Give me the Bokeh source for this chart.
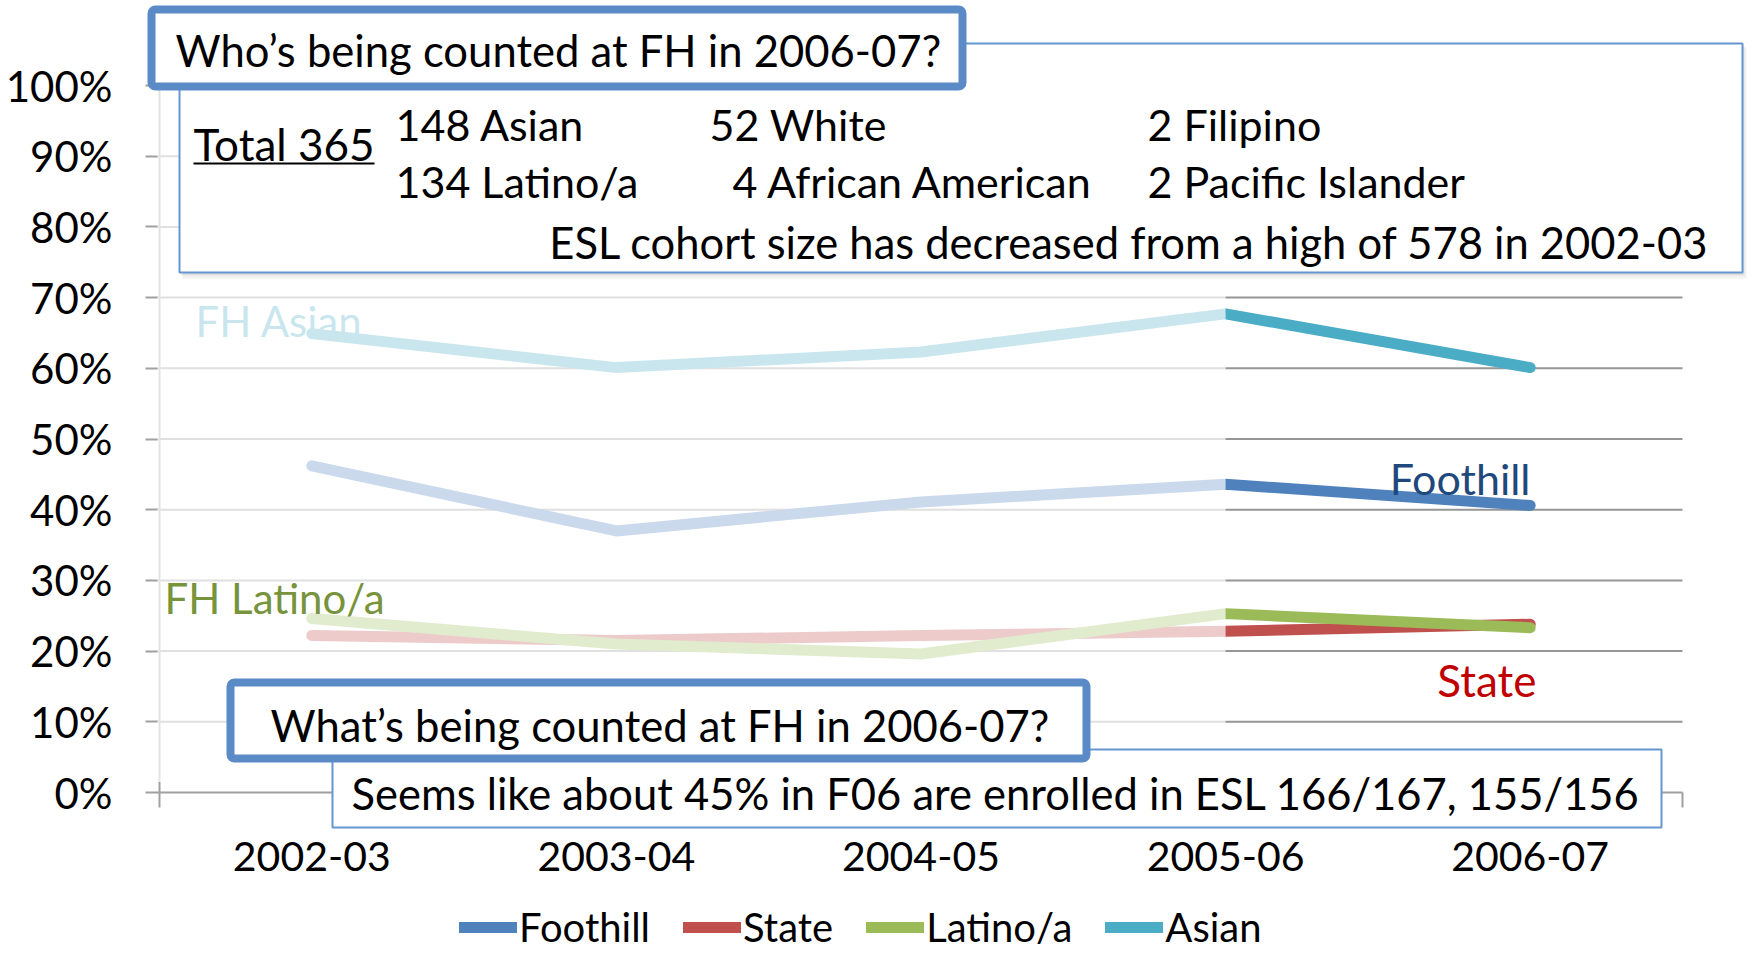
from bokeh.plotting import figure
from bokeh.models import (Range1d, FixedTicker, NumeralTickFormatter, BoxAnnotation,
                          Label, Legend, LegendItem)
from bokeh.embed import file_html
from bokeh.resources import INLINE

# ---------------- data ----------------
categories = ["2002-03", "2003-04", "2004-05", "2005-06", "2006-07"]
foothill = [0.462, 0.370, 0.411, 0.436, 0.406]
state = [0.222, 0.215, 0.222, 0.228, 0.238]
latino = [0.246, 0.210, 0.196, 0.253, 0.233]
asian = [0.649, 0.601, 0.623, 0.677, 0.601]
series_names = ["Foothill", "State", "Latino/a", "Asian"]
series_values = [foothill, state, latino, asian]
series_colors = ["#4F81BD", "#C0504D", "#9BBB59", "#4BACC6"]
y_ticks = [0.0, 0.1, 0.2, 0.3, 0.4, 0.5, 0.6, 0.7, 0.8, 0.9, 1.0]

title_top = "Who\u2019s being counted at FH in 2006-07?"
title_bottom = "What\u2019s being counted at FH in 2006-07?"
total_text = "Total 365"
group_col1 = ["148 Asian", "134 Latino/a"]
group_col2 = ["52 White", "4 African American"]
group_col3 = ["2 Filipino", "2 Pacific Islander"]
cohort_text = "ESL cohort size has decreased from a high of 578 in 2002-03"
enroll_text = "Seems like about 45% in F06 are enrolled in ESL 166/167, 155/156"

# ---------------- layout ----------------
FONT = "Lato"
W, H = 1752, 957
M = 0                 # page offset of the canvas
PX, XC0 = 304.6, 311.3  # pixels per category, page x of first category
PY, Y0 = 707.0, 792.0   # pixels per 100 %, page y of 0 %


def sx(X):
    return X - M


def sy(Y):
    return (M + H) - Y


xs = list(range(len(categories)))
x_lo, x_hi = -0.5, len(categories) - 0.5

p = figure(width=W, height=H, title=None,
           x_range=Range1d((M - XC0) / PX, (M + W - XC0) / PX),
           y_range=Range1d((Y0 - (M + H)) / PY, (Y0 - M) / PY),
           output_backend="svg", toolbar_location=None,
           min_border=0, min_border_left=0, min_border_right=0,
           min_border_top=0, min_border_bottom=0)
p.outline_line_color = None
p.background_fill_color = "white"
p.border_fill_color = "white"
p.xgrid.visible = False
p.ygrid.visible = False

# x axis (drawn at 0 %)
p.xaxis.fixed_location = 0
p.xaxis.bounds = (x_lo, x_hi)
p.xaxis.ticker = FixedTicker(ticks=xs, minor_ticks=[i - 0.5 for i in range(len(categories) + 1)])
p.xaxis.major_label_overrides = {i: c for i, c in enumerate(categories)}
p.xaxis.major_tick_line_color = None
p.xaxis.major_tick_out = 0
p.xaxis.major_tick_in = 0
p.xaxis.minor_tick_out = 15
p.xaxis.minor_tick_in = 0
p.xaxis.minor_tick_line_color = "#a0a0a0"
p.xaxis.minor_tick_line_width = 2
p.xaxis.axis_line_color = "#a0a0a0"
p.xaxis.axis_line_width = 2
p.xaxis.major_label_text_font = FONT
p.xaxis.major_label_text_font_size = "41px"
p.xaxis.major_label_text_color = "black"
p.xaxis.major_label_standoff = 34

# y axis (drawn at left edge of first category band)
p.yaxis.fixed_location = x_lo
p.yaxis.bounds = (0, 1)
p.yaxis.ticker = FixedTicker(ticks=y_ticks)
p.yaxis.formatter = NumeralTickFormatter(format="0%")
p.yaxis.major_tick_out = 14
p.yaxis.major_tick_in = 0
p.yaxis.major_tick_line_color = "#a0a0a0"
p.yaxis.major_tick_line_width = 2
p.yaxis.minor_tick_line_color = None
p.yaxis.axis_line_color = "#a0a0a0"
p.yaxis.axis_line_width = 2
p.yaxis.major_label_text_font = FONT
p.yaxis.major_label_text_font_size = "42px"
p.yaxis.major_label_text_color = "black"
p.yaxis.major_label_standoff = 33

# horizontal grid lines across the plot area
grid_y = y_ticks[1:]
p.segment(x0=[x_lo] * len(grid_y), x1=[x_hi] * len(grid_y), y0=grid_y, y1=grid_y,
          line_color="#969696", line_width=2, level="underlay")

renderers = []
for name, vals, col in zip(series_names, series_values, series_colors):
    r = p.line(xs, vals, line_color=col, line_width=11, line_cap="round", line_join="round")
    renderers.append(r)


def text(X, Yc, s, size="42px", align="left", color="black"):
    p.add_layout(Label(x=sx(X), y=sy(Yc), x_units="screen", y_units="screen", text=s,
                       text_font=FONT, text_font_size=size, text_color=color,
                       text_baseline="middle", text_align=align))


def box(l, t, r, b, lw, color, radius=0, fill="white", alpha=1.0):
    p.add_layout(BoxAnnotation(left=sx(l), right=sx(r), top=sy(t), bottom=sy(b),
                               left_units="screen", right_units="screen",
                               top_units="screen", bottom_units="screen",
                               fill_color=fill, fill_alpha=alpha,
                               line_color=color, line_alpha=1.0,
                               line_width=lw, border_radius=radius))


# label that sits under the fade
text(195, 320, "FH Asian", size="42px", color="#4BACC6")

# white fade over the earlier years
p.add_layout(BoxAnnotation(left=x_lo - 2.0 / PX, right=3, bottom=0.015, top=1.0,
                           fill_color="white", fill_alpha=0.7,
                           line_color=None, line_alpha=0))

# series labels
text(164, 597, "FH Latino/a", size="42px", color="#77933C")
text(1530, 478, "Foothill", size="43px", color="#1F497D", align="right")
text(1536, 679, "State", size="44px", color="#C00000", align="right")

BLUE_THICK = "#5A8BC7"
BLUE_THIN = "#6596D0"

# big info box (with soft shadow)
box(182, 47, 1746, 278, 0, None, fill="#000000", alpha=0.05)
box(181, 45, 1744, 275, 0, None, fill="#000000", alpha=0.07)
box(179, 43, 1742, 272, 2, BLUE_THIN)
text(193, 143.5, total_text, size="44px")
box(193, 162, 374, 164, 0, None, fill="black")
rows = [123.5, 181]
for i, (a, b_, c) in enumerate(zip(group_col1, group_col2, group_col3)):
    text(395, rows[i], a, size="43px")
    text([709, 732][i], rows[i], b_, size="43px")
    text(1147, rows[i], c, size="43px")
text(1709, 241, cohort_text, size="43.5px", align="right")

# top title box
box(151, 9, 962, 86, 8, BLUE_THICK, radius=4)
text(175, 49, title_top, size="43.6px")

# bottom boxes
box(332, 749, 1661, 827, 2, BLUE_THIN)
box(230, 682, 1086, 758, 8, BLUE_THICK, radius=4)
text(270, 724, title_bottom, size="43.6px")
text(351, 792.5, enroll_text, size="43.5px")

LEG_CY = 931
legend = Legend(items=[LegendItem(label=n, renderers=[r]) for n, r in zip(series_names, renderers)],
                location=(sx(459), sy(LEG_CY + 20)), orientation="horizontal",
                background_fill_alpha=0, border_line_color=None, padding=0, margin=0,
                spacing=33, label_standoff=2, glyph_width=58, glyph_height=40,
                label_height=40, label_text_font=FONT, label_text_font_size="40px",
                label_text_color="black")
p.add_layout(legend, "center")

open("out.html", "w").write(file_html(p, INLINE))
